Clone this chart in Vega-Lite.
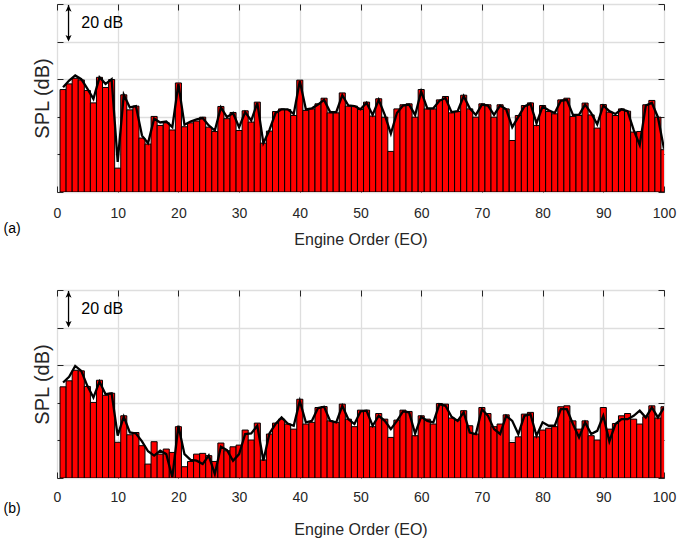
{
  "$schema": "https://vega.github.io/schema/vega-lite/v6.json",
  "padding": {"left": 3, "top": 3, "right": 3, "bottom": 0},
  "background": "white",
  "config": {
    "font": "Liberation Sans",
    "view": {"stroke": "#262626", "strokeWidth": 1},
    "axis": {"labelFont": "Liberation Sans", "titleFont": "Liberation Sans", "labelColor": "#262626", "titleColor": "#262626", "titleFontWeight": "normal", "tickColor": "#262626", "gridColor": "#dedede", "gridWidth": 1.3}
  },
  "spacing": 41,
  "datasets": {
    "one": [{"k": 1}],
    "a": [
      {"eo":1,"bar":54.5,"line":55.7},{"eo":2,"bar":57.5,"line":59.3},{"eo":3,"bar":60.5,"line":62},{"eo":4,"bar":59.6,"line":60},{"eo":5,"bar":54,"line":55},
      {"eo":6,"bar":47.4,"line":49.6},{"eo":7,"bar":61,"line":61},{"eo":8,"bar":55.6,"line":57.5},{"eo":9,"bar":59.8,"line":60},{"eo":10,"bar":12.7,"line":16},
      {"eo":11,"bar":51.7,"line":51.7},{"eo":12,"bar":43.7,"line":45},{"eo":13,"bar":45.7,"line":45.7},{"eo":14,"bar":28.7,"line":30},{"eo":15,"bar":25.5,"line":26},
      {"eo":16,"bar":40.2,"line":39},{"eo":17,"bar":35.4,"line":37},{"eo":18,"bar":36.8,"line":37.5},{"eo":19,"bar":33,"line":34.5},{"eo":20,"bar":58,"line":57.5},
      {"eo":21,"bar":34.7,"line":35.8},{"eo":22,"bar":36.8,"line":37.5},{"eo":23,"bar":37.7,"line":38.6},{"eo":24,"bar":39.8,"line":39.3},{"eo":25,"bar":34.5,"line":35.4},
      {"eo":26,"bar":32.2,"line":32.7},{"eo":27,"bar":45.5,"line":45},{"eo":28,"bar":39,"line":39.8},{"eo":29,"bar":42.3,"line":42},{"eo":30,"bar":32.7,"line":34.5},
      {"eo":31,"bar":43.2,"line":42.5},{"eo":32,"bar":37.2,"line":38},{"eo":33,"bar":47.8,"line":47.4},{"eo":34,"bar":26,"line":26},{"eo":35,"bar":32.4,"line":33},
      {"eo":36,"bar":42.8,"line":42},{"eo":37,"bar":44.2,"line":44},{"eo":38,"bar":43.9,"line":44},{"eo":39,"bar":40.7,"line":41.5},{"eo":40,"bar":59.5,"line":59},
      {"eo":41,"bar":43.4,"line":44},{"eo":42,"bar":44.2,"line":44.5},{"eo":43,"bar":46.9,"line":46.5},{"eo":44,"bar":49.9,"line":49},{"eo":45,"bar":42.1,"line":42.5},
      {"eo":46,"bar":42.1,"line":42.5},{"eo":47,"bar":52.7,"line":51.5},{"eo":48,"bar":45.7,"line":46},{"eo":49,"bar":45.7,"line":45.7},{"eo":50,"bar":43.9,"line":44},
      {"eo":51,"bar":47.8,"line":47.5},{"eo":52,"bar":40.4,"line":41},{"eo":53,"bar":49.6,"line":49},{"eo":54,"bar":39.8,"line":41},{"eo":55,"bar":21.6,"line":31},
      {"eo":56,"bar":44.2,"line":42},{"eo":57,"bar":46.4,"line":46},{"eo":58,"bar":46.9,"line":46.5},{"eo":59,"bar":39.8,"line":41},{"eo":60,"bar":54.5,"line":53.5},
      {"eo":61,"bar":44.2,"line":44.5},{"eo":62,"bar":44.2,"line":44.5},{"eo":63,"bar":49,"line":48.5},{"eo":64,"bar":50.8,"line":50},{"eo":65,"bar":42.1,"line":42.5},
      {"eo":66,"bar":42.8,"line":43},{"eo":67,"bar":51.5,"line":51},{"eo":68,"bar":44.2,"line":44.5},{"eo":69,"bar":39.8,"line":41},{"eo":70,"bar":46.9,"line":46.5},
      {"eo":71,"bar":46.4,"line":46},{"eo":72,"bar":39.8,"line":41},{"eo":73,"bar":46.4,"line":46},{"eo":74,"bar":44.2,"line":44},{"eo":75,"bar":27.4,"line":34.5},
      {"eo":76,"bar":40.7,"line":40},{"eo":77,"bar":46,"line":45.5},{"eo":78,"bar":47.4,"line":47},{"eo":79,"bar":35.4,"line":36.5},{"eo":80,"bar":46,"line":45.5},
      {"eo":81,"bar":42.8,"line":43.5},{"eo":82,"bar":41.6,"line":42},{"eo":83,"bar":49,"line":48.5},{"eo":84,"bar":49.9,"line":49},{"eo":85,"bar":40.2,"line":41},
      {"eo":86,"bar":40.7,"line":41},{"eo":87,"bar":47.3,"line":46.5},{"eo":88,"bar":41,"line":42},{"eo":89,"bar":34,"line":36},{"eo":90,"bar":46.5,"line":46},
      {"eo":91,"bar":42.5,"line":43},{"eo":92,"bar":40.7,"line":41.5},{"eo":93,"bar":44.2,"line":44},{"eo":94,"bar":43,"line":43},{"eo":95,"bar":31.9,"line":33},
      {"eo":96,"bar":32.2,"line":25},{"eo":97,"bar":46.4,"line":46},{"eo":98,"bar":48.7,"line":47.4},{"eo":99,"bar":39.8,"line":39.8},{"eo":100,"bar":22.5,"line":23}
    ],
    "b": [
      {"eo":1,"bar":48.5,"line":50.8},{"eo":2,"bar":51.7,"line":53.8},{"eo":3,"bar":57.3,"line":59.6},{"eo":4,"bar":57,"line":57},{"eo":5,"bar":48.7,"line":49},
      {"eo":6,"bar":40.2,"line":42.8},{"eo":7,"bar":52,"line":51.3},{"eo":8,"bar":44,"line":44.6},{"eo":9,"bar":45.1,"line":45},{"eo":10,"bar":19,"line":22.5},
      {"eo":11,"bar":33.1,"line":32.6},{"eo":12,"bar":23,"line":24.2},{"eo":13,"bar":24.2,"line":23.7},{"eo":14,"bar":17.2,"line":19.5},{"eo":15,"bar":7.4,"line":14.2},
      {"eo":16,"bar":19.3,"line":11.9},{"eo":17,"bar":12.7,"line":14.5},{"eo":18,"bar":15.4,"line":12.7},{"eo":19,"bar":13.6,"line":0.4},{"eo":20,"bar":27.3,"line":27.8},
      {"eo":21,"bar":6,"line":12.7},{"eo":22,"bar":8.8,"line":9.6},{"eo":23,"bar":12.7,"line":9.2},{"eo":24,"bar":13.1,"line":7.4},{"eo":25,"bar":11.9,"line":11.9},
      {"eo":26,"bar":8.8,"line":2.1},{"eo":27,"bar":18.6,"line":16.6},{"eo":28,"bar":14.5,"line":14.9},{"eo":29,"bar":16.6,"line":9.2},{"eo":30,"bar":17.5,"line":12.7},
      {"eo":31,"bar":25.5,"line":23.4},{"eo":32,"bar":20.2,"line":23.7},{"eo":33,"bar":29.2,"line":27.8},{"eo":34,"bar":9.6,"line":9.2},{"eo":35,"bar":23.4,"line":23.7},
      {"eo":36,"bar":29.2,"line":28.7},{"eo":37,"bar":31.3,"line":32.2},{"eo":38,"bar":28.7,"line":29},{"eo":39,"bar":26,"line":27.8},{"eo":40,"bar":41.9,"line":41},
      {"eo":41,"bar":28.7,"line":29.6},{"eo":42,"bar":29.6,"line":30.4},{"eo":43,"bar":37.5,"line":37.2},{"eo":44,"bar":38,"line":37.9},{"eo":45,"bar":30.4,"line":30.4},
      {"eo":46,"bar":29.6,"line":29.6},{"eo":47,"bar":39.3,"line":38.4},{"eo":48,"bar":31.3,"line":31.3},{"eo":49,"bar":27.3,"line":28.7},{"eo":50,"bar":36.1,"line":35.4},
      {"eo":51,"bar":36.1,"line":35.8},{"eo":52,"bar":27.3,"line":27.8},{"eo":53,"bar":34.3,"line":33.1},{"eo":54,"bar":31.3,"line":30.4},{"eo":55,"bar":21.6,"line":26},
      {"eo":56,"bar":30.8,"line":30.4},{"eo":57,"bar":36.1,"line":35.4},{"eo":58,"bar":35.4,"line":34.9},{"eo":59,"bar":22.5,"line":23.7},{"eo":60,"bar":33.1,"line":32.6},
      {"eo":61,"bar":31.3,"line":30.4},{"eo":62,"bar":28.7,"line":29.6},{"eo":63,"bar":39.6,"line":39.3},{"eo":64,"bar":39.3,"line":38.4},{"eo":65,"bar":31.9,"line":32.6},
      {"eo":66,"bar":30.8,"line":30.4},{"eo":67,"bar":35.8,"line":34.9},{"eo":68,"bar":27.8,"line":24.2},{"eo":69,"bar":23.4,"line":23.4},{"eo":70,"bar":37.5,"line":36.6},
      {"eo":71,"bar":34.3,"line":33.1},{"eo":72,"bar":27.3,"line":26},{"eo":73,"bar":28.7,"line":23.4},{"eo":74,"bar":33.6,"line":33.1},{"eo":75,"bar":18.9,"line":30.4},
      {"eo":76,"bar":21.9,"line":23.4},{"eo":77,"bar":34,"line":33.1},{"eo":78,"bar":34.9,"line":34},{"eo":79,"bar":21.9,"line":22.5},{"eo":80,"bar":25.5,"line":29.6},
      {"eo":81,"bar":26.5,"line":27.8},{"eo":82,"bar":27.3,"line":27.8},{"eo":83,"bar":37.9,"line":36.6},{"eo":84,"bar":38.4,"line":36.6},{"eo":85,"bar":30.4,"line":28.7},
      {"eo":86,"bar":26,"line":21.6},{"eo":87,"bar":30.4,"line":29.6},{"eo":88,"bar":22.5,"line":23.4},{"eo":89,"bar":20.2,"line":25.1},{"eo":90,"bar":37.5,"line":33.1},
      {"eo":91,"bar":26,"line":19.5},{"eo":92,"bar":29,"line":28.7},{"eo":93,"bar":33.1,"line":31.3},{"eo":94,"bar":34.3,"line":31.3},{"eo":95,"bar":31.3,"line":33.1},
      {"eo":96,"bar":28.7,"line":35.8},{"eo":97,"bar":32.6,"line":32.2},{"eo":98,"bar":38.4,"line":37.5},{"eo":99,"bar":31.9,"line":32.2},{"eo":100,"bar":37.9,"line":37.5}
    ]
  },
  "vconcat": [
    {
      "width": 607, "height": 188,
      "resolve": {"axis": {"x": "independent", "y": "independent"}},
      "layer": [
        {
          "data": {"name": "a"},
          "mark": {"type": "bar", "width": 6.07, "fill": "#ff0000", "stroke": "#000000", "strokeWidth": 1, "clip": true},
          "encoding": {
            "x": {"field": "eo", "type": "quantitative", "scale": {"domain": [0, 100], "nice": false, "zero": false, "padding": 0},
                  "axis": {"orient": "bottom", "values": [0,10,20,30,40,50,60,70,80,90,100], "grid": true, "domain": false, "tickSize": -6, "labelPadding": 20, "labelFontSize": 14, "title": "Engine Order (EO)", "titleFontSize": 16, "titlePadding": 11, "labelFlush": false}},
            "y": {"field": "bar", "type": "quantitative", "scale": {"domain": [0, 100], "nice": false, "padding": 0},
                  "axis": {"orient": "left", "values": [0,20,40,60,80,100], "grid": true, "domain": false, "labels": false, "tickSize": -6, "title": "SPL (dB)", "titleFontSize": 20, "titlePadding": 4}}
          }
        },
        {
          "data": {"name": "a"},
          "mark": {"type": "line", "stroke": "#000000", "strokeWidth": 2.3, "clip": true},
          "encoding": {
            "x": {"field": "eo", "type": "quantitative", "axis": {"orient": "top", "values": [0,10,20,30,40,50,60,70,80,90,100], "grid": false, "domain": false, "labels": false, "tickSize": -6, "title": null}},
            "y": {"field": "line", "type": "quantitative", "axis": {"orient": "right", "values": [0,20,40,60,80,100], "grid": false, "domain": false, "labels": false, "tickSize": -6, "title": null}}
          }
        },
        {
          "data": {"name": "one"},
          "mark": {"type": "rule", "stroke": "#000000", "strokeWidth": 1.3},
          "encoding": {"x": {"datum": 1.9, "axis": null}, "y": {"datum": 81, "axis": null}, "y2": {"datum": 99.5}}
        },
        {
          "data": {"name": "one"},
          "mark": {"type": "point", "shape": "M-0.45,1 L0,0 L0.45,1 L0,0.75 Z", "filled": true, "fill": "#000000", "strokeWidth": 0, "size": 180, "opacity": 1},
          "encoding": {"x": {"datum": 1.9, "axis": null}, "y": {"datum": 99.5, "axis": null}}
        },
        {
          "data": {"name": "one"},
          "mark": {"type": "point", "shape": "M-0.45,-1 L0,0 L0.45,-1 L0,-0.75 Z", "filled": true, "fill": "#000000", "strokeWidth": 0, "size": 180, "opacity": 1},
          "encoding": {"x": {"datum": 1.9, "axis": null}, "y": {"datum": 80, "axis": null}}
        },
        {
          "data": {"name": "one"},
          "mark": {"type": "text", "text": "20 dB", "align": "left", "baseline": "middle", "fontSize": 16, "fill": "#000000"},
          "encoding": {"x": {"datum": 4.0, "axis": null}, "y": {"datum": 90, "axis": null}}
        },
        {
          "data": {"name": "one"},
          "mark": {"type": "text", "text": "(a)", "align": "center", "baseline": "middle", "fontSize": 14, "fill": "#000000"},
          "encoding": {"x": {"datum": -7.4, "axis": null}, "y": {"datum": -19.5, "axis": null}}
        }
      ]
    },
    {
      "width": 607, "height": 188,
      "resolve": {"axis": {"x": "independent", "y": "independent"}},
      "layer": [
        {
          "data": {"name": "b"},
          "mark": {"type": "bar", "width": 6.07, "fill": "#ff0000", "stroke": "#000000", "strokeWidth": 1, "clip": true},
          "encoding": {
            "x": {"field": "eo", "type": "quantitative", "scale": {"domain": [0, 100], "nice": false, "zero": false, "padding": 0},
                  "axis": {"orient": "bottom", "values": [0,10,20,30,40,50,60,70,80,90,100], "grid": true, "domain": false, "tickSize": -6, "labelPadding": 18, "labelFontSize": 14, "title": "Engine Order (EO)", "titleFontSize": 16, "titlePadding": 17, "labelFlush": false}},
            "y": {"field": "bar", "type": "quantitative", "scale": {"domain": [0, 100], "nice": false, "padding": 0},
                  "axis": {"orient": "left", "values": [0,20,40,60,80,100], "grid": true, "domain": false, "labels": false, "tickSize": -6, "title": "SPL (dB)", "titleFontSize": 20, "titlePadding": 4}}
          }
        },
        {
          "data": {"name": "b"},
          "mark": {"type": "line", "stroke": "#000000", "strokeWidth": 2.3, "clip": true},
          "encoding": {
            "x": {"field": "eo", "type": "quantitative", "axis": {"orient": "top", "values": [0,10,20,30,40,50,60,70,80,90,100], "grid": false, "domain": false, "labels": false, "tickSize": -6, "title": null}},
            "y": {"field": "line", "type": "quantitative", "axis": {"orient": "right", "values": [0,20,40,60,80,100], "grid": false, "domain": false, "labels": false, "tickSize": -6, "title": null}}
          }
        },
        {
          "data": {"name": "one"},
          "mark": {"type": "rule", "stroke": "#000000", "strokeWidth": 1.3},
          "encoding": {"x": {"datum": 1.9, "axis": null}, "y": {"datum": 81, "axis": null}, "y2": {"datum": 99.5}}
        },
        {
          "data": {"name": "one"},
          "mark": {"type": "point", "shape": "M-0.45,1 L0,0 L0.45,1 L0,0.75 Z", "filled": true, "fill": "#000000", "strokeWidth": 0, "size": 180, "opacity": 1},
          "encoding": {"x": {"datum": 1.9, "axis": null}, "y": {"datum": 99.5, "axis": null}}
        },
        {
          "data": {"name": "one"},
          "mark": {"type": "point", "shape": "M-0.45,-1 L0,0 L0.45,-1 L0,-0.75 Z", "filled": true, "fill": "#000000", "strokeWidth": 0, "size": 180, "opacity": 1},
          "encoding": {"x": {"datum": 1.9, "axis": null}, "y": {"datum": 80, "axis": null}}
        },
        {
          "data": {"name": "one"},
          "mark": {"type": "text", "text": "20 dB", "align": "left", "baseline": "middle", "fontSize": 16, "fill": "#000000"},
          "encoding": {"x": {"datum": 4.0, "axis": null}, "y": {"datum": 90, "axis": null}}
        },
        {
          "data": {"name": "one"},
          "mark": {"type": "text", "text": "(b)", "align": "center", "baseline": "middle", "fontSize": 14, "fill": "#000000"},
          "encoding": {"x": {"datum": -7.4, "axis": null}, "y": {"datum": -16.5, "axis": null}}
        }
      ]
    }
  ]
}
